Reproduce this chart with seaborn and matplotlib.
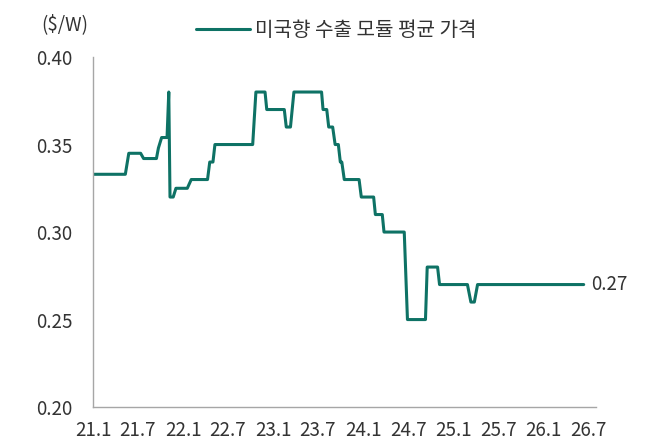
import matplotlib
matplotlib.use("Agg")
import matplotlib.pyplot as plt
import pandas as pd
import seaborn as sns

# 미국향 수출 모듈 평균 가격 ($/W) - 가격 변동 시점
dates = [
    "2021-01-01", "2021-05-12", "2021-05-26", "2021-07-13", "2021-07-25",
    "2021-09-15", "2021-09-23", "2021-10-06", "2021-10-28", "2021-11-04",
    "2021-11-09", "2021-11-22", "2021-12-03", "2022-01-18", "2022-02-03",
    "2022-04-10", "2022-04-19", "2022-05-02", "2022-05-10", "2022-10-10",
    "2022-10-23", "2022-11-29", "2022-12-06", "2023-02-15", "2023-02-23",
    "2023-03-12", "2023-03-26", "2023-07-16", "2023-07-22", "2023-08-06",
    "2023-08-14", "2023-08-30", "2023-09-09", "2023-09-22", "2023-09-30",
    "2023-10-06", "2023-10-16", "2023-12-15", "2023-12-24", "2024-02-12",
    "2024-02-19", "2024-03-18", "2024-03-25", "2024-06-15", "2024-06-28",
    "2024-09-09", "2024-09-16", "2024-10-28", "2024-11-05", "2025-02-26",
    "2025-03-12", "2025-03-26", "2025-04-08", "2026-06-12",
]
prices = [
    0.333, 0.333, 0.345, 0.345, 0.342,
    0.342, 0.348, 0.354, 0.354, 0.380,
    0.320, 0.320, 0.325, 0.325, 0.330,
    0.330, 0.340, 0.340, 0.350, 0.350,
    0.380, 0.380, 0.370, 0.370, 0.360,
    0.360, 0.380, 0.380, 0.370, 0.370,
    0.360, 0.360, 0.350, 0.350, 0.340,
    0.340, 0.330, 0.330, 0.320, 0.320,
    0.310, 0.310, 0.300, 0.300, 0.250,
    0.250, 0.280, 0.280, 0.270, 0.270,
    0.260, 0.260, 0.270, 0.270,
]
series_name = "미국향 수출 모듈 평균 가격"
tick_dates = ["2021-01-01", "2021-07-01", "2022-01-01", "2022-07-01",
              "2023-01-01", "2023-07-01", "2024-01-01", "2024-07-01",
              "2025-01-01", "2025-07-01", "2026-01-01", "2026-07-01"]
tick_labels = ["21.1", "21.7", "22.1", "22.7", "23.1", "23.7",
               "24.1", "24.7", "25.1", "25.7", "26.1", "26.7"]
y_ticks = [0.20, 0.25, 0.30, 0.35, 0.40]

LINE_COLOR = "#0e7265"
TEXT_COLOR = "#333333"
AXIS_COLOR = "#a6a6a6"

sns.set_theme(style="white")
plt.rcParams["font.family"] = ["Noto Sans CJK KR", "DejaVu Sans"]

df = pd.DataFrame({"date": pd.to_datetime(dates), "price": prices})

fig = plt.figure(figsize=(6.7, 4.42), dpi=100)
ax = fig.add_axes([0.1388, 0.079, 0.7508, 0.792])

sns.lineplot(data=df, x="date", y="price", color=LINE_COLOR, lw=2.2,
             label=series_name, ax=ax)

ax.set_xlim(pd.Timestamp("2021-01-01"), pd.Timestamp("2026-08-01"))
ax.set_ylim(0.20, 0.40)
ax.set_xticks(pd.to_datetime(tick_dates))
ax.set_xticklabels(tick_labels)
ax.set_yticks(y_ticks)
ax.set_yticklabels([f"{v:.2f}" for v in y_ticks])
ax.set_xlabel("")
ax.set_ylabel("")

for side in ["top", "right"]:
    ax.spines[side].set_visible(False)
for side in ["left", "bottom"]:
    ax.spines[side].set_color(AXIS_COLOR)
    ax.spines[side].set_linewidth(1)
ax.tick_params(axis="both", which="both", direction="out", length=4, width=1,
               color=AXIS_COLOR, labelcolor=TEXT_COLOR, labelsize=13.5)
ax.tick_params(axis="y", pad=11)
ax.tick_params(axis="x", pad=5)

# 마지막 값 라벨
ax.annotate(f"{prices[-1]:.2f}", xy=(df["date"].iloc[-1], prices[-1]),
            xytext=(5, 0), textcoords="offset points", va="center",
            ha="left", fontsize=13.5, color=TEXT_COLOR)

fig.text(0.062, 0.945, "($/W)", fontsize=13.5, color=TEXT_COLOR,
         ha="left", va="center")

ax.legend(loc="center", bbox_to_anchor=(0.483, 1.075), frameon=False,
          fontsize=14.5, handlelength=2.7, handletextpad=0.25,
          labelcolor=TEXT_COLOR)

fig.savefig("out.png", dpi=100)
plt.close(fig)
